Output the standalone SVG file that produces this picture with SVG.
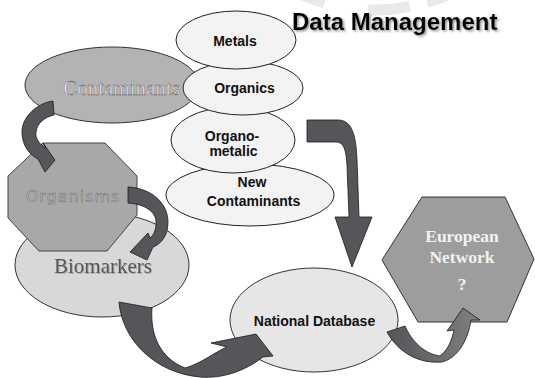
<svg xmlns="http://www.w3.org/2000/svg" width="535" height="378" viewBox="0 0 535 378">
  <defs>
    <filter id="shadow" x="-10%" y="-30%" width="130%" height="170%">
      <feDropShadow dx="1.5" dy="1.5" stdDeviation="0.8" flood-color="#777" flood-opacity="0.8"/>
    </filter>
    <filter id="soft" x="-10%" y="-30%" width="130%" height="170%">
      <feDropShadow dx="1" dy="1" stdDeviation="0.5" flood-color="#999" flood-opacity="0.7"/>
    </filter>
    <linearGradient id="toNetwork" x1="0" y1="0" x2="1" y2="0">
      <stop offset="0" stop-color="#55555a"/>
      <stop offset="1" stop-color="#808080"/>
    </linearGradient>
  </defs>
  <style>
    .sub { fill: #f3f3f3; stroke: #222; stroke-width: 1; }
    .sub-label { font-family: "Liberation Sans", Arial, sans-serif; font-weight: bold; font-size: 14px; fill: #111; text-anchor: middle; }
    .arrow { fill: #56565a; stroke: #1a1a1a; stroke-width: 0.8; stroke-linejoin: round; }
    .serif { font-family: "Liberation Serif", "Times New Roman", serif; text-anchor: middle; }
  </style>

  <rect width="535" height="378" fill="#ffffff"/>

  <!-- faint ring segments along the top edge -->
  <path d="M 300 -6 Q 375 26 450 -6" fill="none" stroke="#e9e9e9" stroke-width="11" stroke-dasharray="26 44 42 18 20 40"/>

  <!-- title -->
  <text x="292" y="30" filter="url(#shadow)" font-family="Liberation Sans, Arial, sans-serif" font-weight="bold" font-size="24" fill="#000">Data Management</text>

  <!-- contaminants group -->
  <g id="contaminants">
    <ellipse cx="112" cy="85" rx="87" ry="38" fill="#b3b3b3" stroke="#333" stroke-width="1"/>
    <text class="serif" x="121.5" y="95" font-size="21" fill="#f2f2f2" stroke="#5a5a5a" stroke-width="0.45">Contaminants</text>
  </g>

  <g id="new-contaminants">
    <ellipse class="sub" cx="250" cy="195" rx="84" ry="31"/>
    <text class="sub-label" x="252" y="187" font-size="15">New</text>
    <text class="sub-label" x="253.5" y="206" font-size="15">Contaminants</text>
  </g>

  <g id="organometalic">
    <ellipse class="sub" cx="233" cy="140" rx="62" ry="33"/>
    <text class="sub-label" x="232" y="141">Organo-</text>
    <text class="sub-label" x="233.5" y="156">metalic</text>
  </g>

  <g id="organics">
    <ellipse class="sub" cx="243" cy="88" rx="60" ry="27"/>
    <text class="sub-label" x="244.5" y="93">Organics</text>
  </g>

  <g id="metals">
    <ellipse class="sub" cx="236" cy="40" rx="60" ry="29"/>
    <text class="sub-label" x="235" y="46">Metals</text>
  </g>

  <g id="biomarkers">
    <ellipse cx="102" cy="265" rx="87" ry="52" fill="#d8d8d8" stroke="#333" stroke-width="1"/>
    <text class="serif" x="103" y="273" font-size="21" fill="#555" filter="url(#soft)">Biomarkers</text>
  </g>

  <g id="organisms">
    <polygon points="43,143 105,143 137,176 137,215 107,251 39,251 8,218 8,176" fill="#a8a8a8" stroke="#444" stroke-width="1"/>
    <text x="73" y="202" font-family="DejaVu Sans, Verdana, sans-serif" font-size="16" letter-spacing="1" text-anchor="middle" fill="#b4b4b4" stroke="#707070" stroke-width="0.45">Organisms</text>
  </g>

  <g id="national-database">
    <ellipse cx="314" cy="320" rx="84" ry="52" fill="#e6e6e6" stroke="#333" stroke-width="1"/>
    <text class="sub-label" x="314.5" y="326" font-size="15">National Database</text>
  </g>

  <g id="european-network">
    <polygon points="422,197 505,197 534,259 507,322 418,322 382,260" fill="#9d9d9d" stroke="#333" stroke-width="1"/>
    <text class="serif" x="462" y="242" font-size="17.5" font-weight="bold" fill="#f2f2f2">European</text>
    <text class="serif" x="462" y="263" font-size="17.5" font-weight="bold" fill="#f2f2f2">Network</text>
    <text class="serif" x="462" y="290" font-size="17.5" font-weight="bold" fill="#f2f2f2">?</text>
  </g>

  <!-- curved block arrows between stages -->
  <g id="connectors">
    <path class="arrow" d="M53,101 C38,103 22,116 22,132 C22,146 30,155 38,159 L45,172 L55,160 L43,143 L46,148 C39,144 35,138 36,132 C37,123 45,117 54,115 Z"/>
    <path class="arrow" d="M128,187 C150,188 168,202 168,222 C168,236 161,244 153,247 L147,260 L130,252 L148,233 L150,238 C155,234 156,228 156,222 C156,212 145,204 128,203 Z"/>
    <path class="arrow" d="M119,302 L152,308 C150,335 160,358 185,368 C200,364 215,352 227,347 L211,343 L256,334 L273,356 L263,357 C245,371 222,379 200,377 C155,373 122,340 119,302 Z"/>
    <path class="arrow" d="M307,120 L338,120 C352,120 356,135 357,160 L359,217 L372,217 L352,267 L335,217 L349,217 L347,165 C346,150 344,142 336,142 L307,142 Z"/>
    <path class="arrow" style="fill:url(#toNetwork)" d="M387,332 L405,326 C412,342 425,354 440,356 C448,350 452,340 454,330 L447,331 L463,308 L480,320 L471,320 C468,340 458,358 442,362 C418,364 398,352 387,332 Z"/>
  </g>
</svg>
